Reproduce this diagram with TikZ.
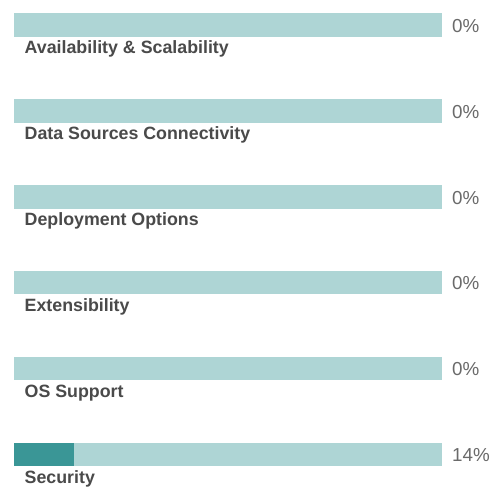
\documentclass[tikz,border=0pt]{standalone}
\usepackage{fontspec}
\setmainfont{Liberation Sans}
\definecolor{barbg}{HTML}{AED5D5}
\definecolor{barfg}{HTML}{3A9696}
\definecolor{labeltxt}{HTML}{4A4A4A}
\definecolor{pcttxt}{HTML}{6A6A6A}
\begin{document}
\begin{tikzpicture}[x=1pt,y=-1pt,
  bg/.style={fill=barbg,draw=none},
  fg/.style={fill=barfg,draw=none},
  lbl/.style={anchor=base west,inner sep=0pt,text=labeltxt,font=\fontsize{17.8}{19}\selectfont\bfseries},
  pct/.style={anchor=base west,inner sep=0pt,text=pcttxt,font=\fontsize{18.8}{20}\selectfont}]
\useasboundingbox[fill=white] (0,0) rectangle (493,487);
\foreach \i/\name/\p in {0/Availability \& Scalability/0\%,1/Data Sources Connectivity/0\%,2/Deployment Options/0\%,3/Extensibility/0\%,4/OS Support/0\%,5/Security/14\%}{
  \pgfmathsetmacro{\yy}{13.5+85.8*\i}
  \fill[bg] (14,\yy) rectangle (442,\yy+23.5);
  \node[lbl] (l\i) at (24.5,\yy+40.5) {\name};
  \node[pct] (p\i) at (452,\yy+19) {\p};
}
\fill[fg] (14,13.5+85.8*5) rectangle (73.5,13.5+85.8*5+23.5);
\end{tikzpicture}
\end{document}
